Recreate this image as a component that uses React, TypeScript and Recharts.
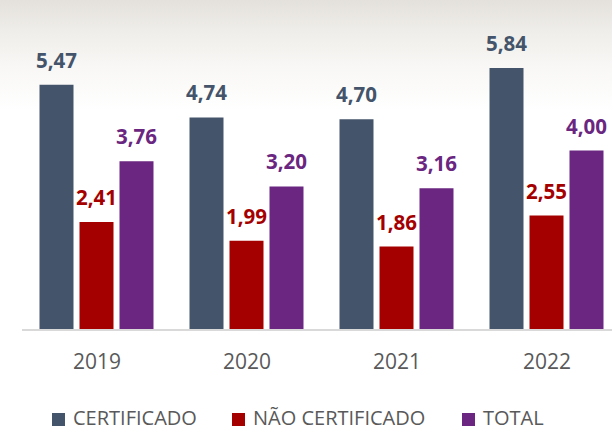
import React from "react";
import { BarChart, Bar, XAxis, YAxis, Legend, LabelList } from "recharts";

const years = ["2019", "2020", "2021", "2022"];
const certificado = [5.47, 4.74, 4.7, 5.84];
const naoCertificado = [2.41, 1.99, 1.86, 2.55];
const total = [3.76, 3.2, 3.16, 4.0];

const COLORS = {
  cert: "#44546a",
  nao: "#a50000",
  total: "#6a2680",
};

const data = years.map((year, i) => ({
  year,
  cert: certificado[i],
  nao: naoCertificado[i],
  total: total[i],
}));

const fmt = (v: number) => v.toFixed(2).replace(".", ",");

const labelStyle = (fill: string) => ({
  fill,
  fontSize: 20.5,
  fontWeight: 700,
  fontFamily: "'Open Sans', sans-serif",
});

function LegendContent() {
  const items = [
    { name: "CERTIFICADO", color: COLORS.cert, width: 180 },
    { name: "NÃO CERTIFICADO", color: COLORS.nao, width: 230 },
    { name: "TOTAL", color: COLORS.total, width: 100 },
  ];
  return (
    <div
      style={{
        display: "flex",
        alignItems: "center",
        height: 20,
        paddingLeft: 52,
        fontFamily: "'Open Sans', sans-serif",
        fontSize: 20,
        color: "#595959",
      }}
    >
      {items.map((it) => (
        <div
          key={it.name}
          style={{ display: "flex", alignItems: "center", width: it.width, height: 20 }}
        >
          <span
            style={{
              display: "inline-block",
              width: 13,
              height: 13,
              background: it.color,
              marginRight: 8,
              position: "relative",
              top: 1,
            }}
          />
          <span style={{ lineHeight: "20px", whiteSpace: "nowrap" }}>{it.name}</span>
        </div>
      ))}
    </div>
  );
}

export default function App() {
  return (
    <div
      style={{
        position: "fixed",
        left: 0,
        top: 0,
        width: 612,
        height: 432,
        overflow: "hidden",
        background:
          "linear-gradient(to bottom, #e4e1dc 0px, #efede9 30px, #f8f7f5 65px, #ffffff 110px)",
      }}
    >
      <BarChart
        width={630}
        height={432}
        data={data}
        margin={{ top: 16, right: 8, bottom: 4, left: 22 }}
        barCategoryGap={17.5}
        barGap={6}
      >
        <XAxis
          dataKey="year"
          axisLine={{ stroke: "#d9d9d9", strokeWidth: 2 }}
          tickLine={false}
          tickSize={0}
          tickMargin={24}
          height={78}
          tick={{
            fill: "#595959",
            fontSize: 21,
            fontFamily: "'Open Sans', sans-serif",
          }}
        />
        <YAxis hide domain={[0, 7]} />
        <Legend
          verticalAlign="bottom"
          content={<LegendContent />}
          wrapperStyle={{ left: 0, width: 612, height: 20 }}
        />
        <Bar dataKey="cert" fill={COLORS.cert} isAnimationActive={false}>
          <LabelList
            dataKey="cert"
            position="top"
            offset={17}
            formatter={fmt}
            style={labelStyle(COLORS.cert)}
          />
        </Bar>
        <Bar dataKey="nao" fill={COLORS.nao} isAnimationActive={false}>
          <LabelList
            dataKey="nao"
            position="top"
            offset={17}
            formatter={fmt}
            style={labelStyle(COLORS.nao)}
          />
        </Bar>
        <Bar dataKey="total" fill={COLORS.total} isAnimationActive={false}>
          <LabelList
            dataKey="total"
            position="top"
            offset={17}
            formatter={fmt}
            style={labelStyle(COLORS.total)}
          />
        </Bar>
      </BarChart>
    </div>
  );
}
